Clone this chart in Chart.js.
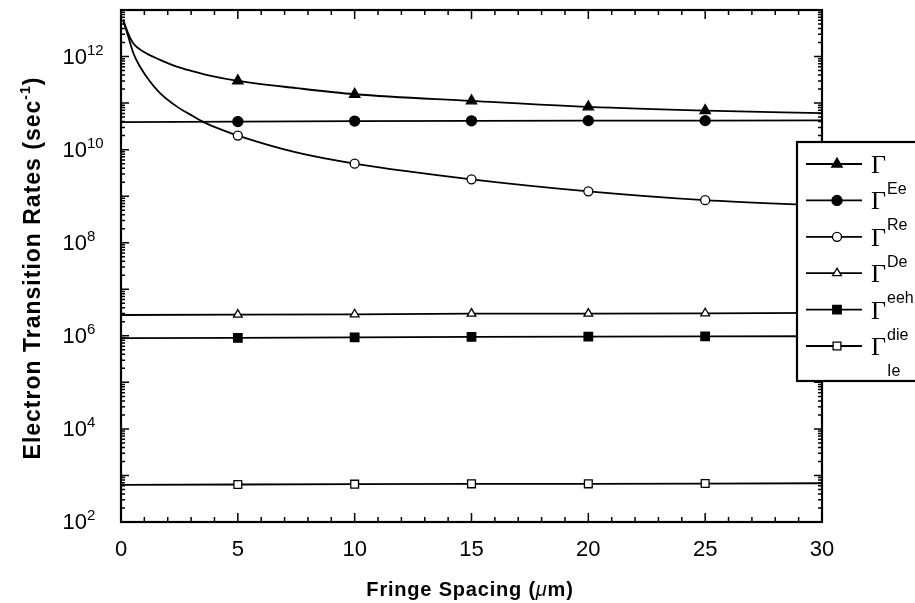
<!DOCTYPE html>
<html>
<head>
<meta charset="utf-8">
<script src="https://cdn.jsdelivr.net/npm/chart.js@4.4.1/dist/chart.umd.min.js"></script>
<style>
  html, body { margin: 0; padding: 0; background: #fff; }
  #wrap { width: 915px; height: 603px; }
</style>
</head>
<body>
<div id="wrap"><canvas id="rates" width="915" height="603"></canvas></div>
<script>
// rates in 1/s vs fringe spacing in um
const eeX = [0.1, 0.3, 0.53, 0.95, 1.67, 2.38, 3.09, 3.8, 5, 7.5, 10, 15, 20, 25, 30];
const eeY = [5.9e12, 3.2e12, 1.9e12, 1.28e12, 8.5e11, 6.1e11, 4.8e11, 3.9e11, 3.0e11, 2.1e11, 1.55e11, 1.12e11, 8.3e10, 6.9e10, 6.1e10];

const deX = [0.1, 0.31, 0.53, 0.81, 1.24, 1.67, 2.38, 3.09, 3.45, 4.24, 5, 7.5, 10, 15, 20, 25, 30];
const deY = [5.9e12, 2.7e12, 1.18e12, 6.1e11, 2.9e11, 1.64e11, 8.5e10, 5.2e10, 4.1e10, 2.75e10, 2.0e10, 8.7e9, 5.0e9, 2.3e9, 1.27e9, 8.2e8, 6.3e8];

const flatX = [0, 5, 10, 15, 20, 25, 30];
const reY = [3.9e10, 4.0e10, 4.1e10, 4.15e10, 4.2e10, 4.2e10, 4.25e10];
const eehY = [2.8e6, 2.85e6, 2.9e6, 3.0e6, 3.0e6, 3.05e6, 3.1e6];
const dieY = [8.9e5, 9.0e5, 9.3e5, 9.5e5, 9.6e5, 9.7e5, 9.8e5];
const ieY = [6.3e2, 6.4e2, 6.5e2, 6.6e2, 6.6e2, 6.7e2, 6.8e2];

const markerX = [5, 10, 15, 20, 25];
const xTickLabels = [0, 5, 10, 15, 20, 25, 30];
const yTickPowers = [2, 4, 6, 8, 10, 12];
const legendSubs = ["Ee", "Re", "De", "eeh", "die", "Ie"];

const SANS = "'Liberation Sans', Arial, sans-serif";

function pts(xs, ys) {
    return xs.map((v, i) => ({ x: v, y: ys[i] }));
}

function series(label, xs, ys, style, filled, r, curved) {
    return {
        label: label,
        data: pts(xs, ys),
        borderColor: "#000",
        borderWidth: 1.8,
        pointStyle: style,
        pointBackgroundColor: filled ? "#000" : "#fff",
        pointBorderColor: "#000",
        pointBorderWidth: 1.3,
        pointRadius: ctx => markerX.includes(ctx.raw && ctx.raw.x) ? r : 0,
        pointHoverRadius: 0,
        tension: 0,
        cubicInterpolationMode: curved ? "monotone" : "default",
        _filled: filled,
        _r: r
    };
}

// small marker for the legend box
function drawMarker(ctx, style, filled, r, x, y) {
    ctx.beginPath();
    if (style === "circle") {
        ctx.arc(x, y, r, 0, Math.PI * 2);
    } else if (style === "triangle") {
        ctx.moveTo(x, y - r);
        ctx.lineTo(x + r * 0.87, y + r * 0.5);
        ctx.lineTo(x - r * 0.87, y + r * 0.5);
        ctx.closePath();
    } else {
        const s = r * Math.SQRT1_2;
        ctx.rect(x - s, y - s, 2 * s, 2 * s);
    }
    ctx.fillStyle = filled ? "#000" : "#fff";
    ctx.fill();
    ctx.lineWidth = 1.3;
    ctx.stroke();
}

// draws pieces [text, font, dy] one after another, centred on x
function drawPieces(ctx, pieces, cx, y, spacing) {
    ctx.letterSpacing = spacing;
    let total = 0;
    pieces.forEach(p => { ctx.font = p[1]; total += ctx.measureText(p[0]).width; });
    let x = cx - total / 2;
    ctx.textAlign = "left";
    pieces.forEach(p => {
        ctx.font = p[1];
        ctx.fillText(p[0], x, y + (p[2] || 0));
        x += ctx.measureText(p[0]).width;
    });
    ctx.letterSpacing = "0px";
}

const frameAndText = {
    id: "frameAndText",
    afterDatasetsDraw(chart) {
        const { ctx, chartArea: a, scales } = chart;
        const xs = scales.x, ys = scales.y;
        ctx.save();
        ctx.strokeStyle = "#000";
        ctx.fillStyle = "#000";

        // inward ticks on all four sides
        ctx.lineWidth = 1.5;
        ctx.beginPath();
        for (let v = 0; v <= 30; v++) {
            const px = xs.getPixelForValue(v);
            const len = v % 5 === 0 ? 9 : 5;
            ctx.moveTo(px, a.bottom); ctx.lineTo(px, a.bottom - len);
            ctx.moveTo(px, a.top); ctx.lineTo(px, a.top + len);
        }
        for (let p = 2; p < 13; p++) {
            for (let m = 1; m < 10; m++) {
                const py = ys.getPixelForValue(m * Math.pow(10, p));
                const len = m === 1 ? 8 : 4;
                ctx.moveTo(a.left, py); ctx.lineTo(a.left + len, py);
                ctx.moveTo(a.right, py); ctx.lineTo(a.right - len, py);
            }
        }
        ctx.stroke();

        ctx.lineWidth = 2.2;
        ctx.strokeRect(a.left, a.top, a.right - a.left, a.bottom - a.top);

        // x tick labels
        ctx.font = "22px " + SANS;
        ctx.textAlign = "center";
        ctx.textBaseline = "middle";
        xTickLabels.forEach(v => {
            ctx.fillText(String(v), xs.getPixelForValue(v), 550);
        });

        // y tick labels as 10 with a raised power
        ctx.textBaseline = "alphabetic";
        yTickPowers.forEach(p => {
            const py = ys.getPixelForValue(Math.pow(10, p));
            ctx.font = "22px " + SANS;
            ctx.textAlign = "right";
            ctx.fillText("10", 87, py + 7);
            ctx.font = "15px " + SANS;
            ctx.textAlign = "left";
            ctx.fillText(String(p), 87, py - 2);
        });

        // y axis title
        ctx.save();
        ctx.translate(40, 268);
        ctx.rotate(-Math.PI / 2);
        drawPieces(ctx, [
            ["Electron Transition Rates (sec", "bold 23px " + SANS, 0],
            ["-1", "bold 14px " + SANS, -10],
            [")", "bold 23px " + SANS, 0]
        ], 0, 0, "1px");
        ctx.restore();

        // x axis title with italic mu
        ctx.textBaseline = "middle";
        drawPieces(ctx, [
            ["Fringe Spacing (", "bold 20px " + SANS, 0],
            ["\u03bc", "italic 20px " + SANS, 0],
            ["m)", "bold 20px " + SANS, 0]
        ], 470, 590, "0.8px");

        // legend box
        const bx = 797, by = 142, bh = 239;
        ctx.fillStyle = "#fff";
        ctx.fillRect(bx, by, 200, bh);
        ctx.lineWidth = 2.2;
        ctx.strokeStyle = "#000";
        ctx.strokeRect(bx, by, 200, bh);
        ctx.textBaseline = "alphabetic";
        chart.data.datasets.forEach((ds, i) => {
            const ly = 164 + i * 36.4;
            ctx.lineWidth = 1.8;
            ctx.beginPath();
            ctx.moveTo(806, ly); ctx.lineTo(862, ly);
            ctx.stroke();
            drawMarker(ctx, ds.pointStyle, ds._filled, ds._r, 837, ly);
            ctx.fillStyle = "#000";
            ctx.textAlign = "left";
            ctx.font = "26px 'Liberation Serif', 'Times New Roman', serif";
            ctx.fillText("\u0393", 871, ly + 9);
            ctx.font = "16px " + SANS;
            ctx.fillText(legendSubs[i], 887, ly + 30);
        });
        ctx.restore();
    }
};

new Chart(document.getElementById("rates"), {
    type: "line",
    data: {
        datasets: [
            series("Ee", eeX, eeY, "triangle", true, 6, true),
            series("Re", flatX, reY, "circle", true, 5, false),
            series("De", deX, deY, "circle", false, 4.5, true),
            series("eeh", flatX, eehY, "triangle", false, 5, false),
            series("die", flatX, dieY, "rect", true, 6, false),
            series("Ie", flatX, ieY, "rect", false, 5.5, false)
        ]
    },
    options: {
        responsive: false,
        animation: false,
        layout: { padding: { left: 121, right: 93, top: 10, bottom: 81 } },
        plugins: { legend: { display: false }, tooltip: { enabled: false } },
        scales: {
            x: { type: "linear", min: 0, max: 30, display: false },
            y: { type: "logarithmic", min: 1e2, max: 1e13, display: false }
        }
    },
    plugins: [frameAndText]
});
</script>
</body>
</html>
